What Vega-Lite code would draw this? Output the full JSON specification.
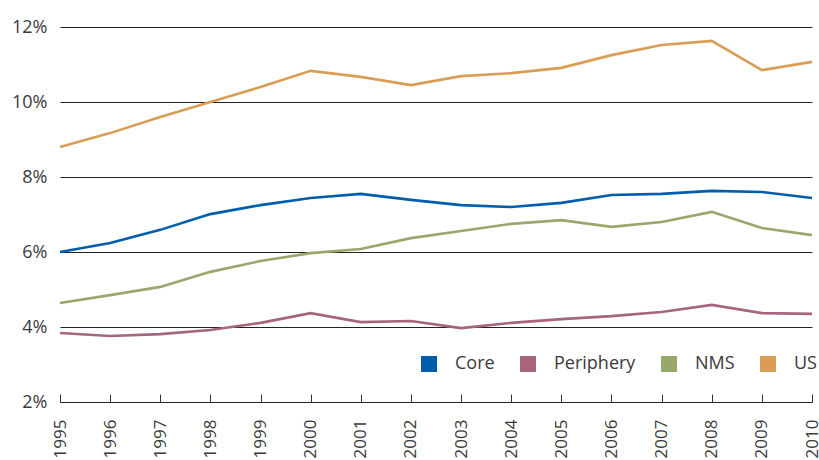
{
  "$schema": "https://vega.github.io/schema/vega-lite/v6.json",
  "width": 752,
  "height": 375,
  "autosize": "none",
  "padding": {"left": 60, "top": 27, "right": 7, "bottom": 58},
  "background": "white",
  "config": {
    "view": {"stroke": null},
    "font": "Open Sans",
    "axis": {"labelFont": "Open Sans", "labelColor": "#3a3a3a"},
    "legend": {"labelFont": "Open Sans"}
  },
  "data": {
    "values": [
      {"year": 1995, "series": "Core", "value": 6.0},
      {"year": 1996, "series": "Core", "value": 6.24},
      {"year": 1997, "series": "Core", "value": 6.59},
      {"year": 1998, "series": "Core", "value": 7.01},
      {"year": 1999, "series": "Core", "value": 7.25},
      {"year": 2000, "series": "Core", "value": 7.44},
      {"year": 2001, "series": "Core", "value": 7.55},
      {"year": 2002, "series": "Core", "value": 7.39},
      {"year": 2003, "series": "Core", "value": 7.25},
      {"year": 2004, "series": "Core", "value": 7.2},
      {"year": 2005, "series": "Core", "value": 7.31},
      {"year": 2006, "series": "Core", "value": 7.52},
      {"year": 2007, "series": "Core", "value": 7.55},
      {"year": 2008, "series": "Core", "value": 7.63},
      {"year": 2009, "series": "Core", "value": 7.6},
      {"year": 2010, "series": "Core", "value": 7.44},
      {"year": 1995, "series": "Periphery", "value": 3.84},
      {"year": 1996, "series": "Periphery", "value": 3.76},
      {"year": 1997, "series": "Periphery", "value": 3.81},
      {"year": 1998, "series": "Periphery", "value": 3.92},
      {"year": 1999, "series": "Periphery", "value": 4.11},
      {"year": 2000, "series": "Periphery", "value": 4.37},
      {"year": 2001, "series": "Periphery", "value": 4.13},
      {"year": 2002, "series": "Periphery", "value": 4.16},
      {"year": 2003, "series": "Periphery", "value": 3.97},
      {"year": 2004, "series": "Periphery", "value": 4.11},
      {"year": 2005, "series": "Periphery", "value": 4.21},
      {"year": 2006, "series": "Periphery", "value": 4.29},
      {"year": 2007, "series": "Periphery", "value": 4.4},
      {"year": 2008, "series": "Periphery", "value": 4.59},
      {"year": 2009, "series": "Periphery", "value": 4.37},
      {"year": 2010, "series": "Periphery", "value": 4.35},
      {"year": 1995, "series": "NMS", "value": 4.64},
      {"year": 1996, "series": "NMS", "value": 4.85},
      {"year": 1997, "series": "NMS", "value": 5.07},
      {"year": 1998, "series": "NMS", "value": 5.47},
      {"year": 1999, "series": "NMS", "value": 5.76},
      {"year": 2000, "series": "NMS", "value": 5.97},
      {"year": 2001, "series": "NMS", "value": 6.08},
      {"year": 2002, "series": "NMS", "value": 6.37},
      {"year": 2003, "series": "NMS", "value": 6.56},
      {"year": 2004, "series": "NMS", "value": 6.75},
      {"year": 2005, "series": "NMS", "value": 6.85},
      {"year": 2006, "series": "NMS", "value": 6.67},
      {"year": 2007, "series": "NMS", "value": 6.8},
      {"year": 2008, "series": "NMS", "value": 7.07},
      {"year": 2009, "series": "NMS", "value": 6.64},
      {"year": 2010, "series": "NMS", "value": 6.45},
      {"year": 1995, "series": "US", "value": 8.8},
      {"year": 1996, "series": "US", "value": 9.17},
      {"year": 1997, "series": "US", "value": 9.6},
      {"year": 1998, "series": "US", "value": 10.0},
      {"year": 1999, "series": "US", "value": 10.4},
      {"year": 2000, "series": "US", "value": 10.83},
      {"year": 2001, "series": "US", "value": 10.67},
      {"year": 2002, "series": "US", "value": 10.45},
      {"year": 2003, "series": "US", "value": 10.69},
      {"year": 2004, "series": "US", "value": 10.77},
      {"year": 2005, "series": "US", "value": 10.91},
      {"year": 2006, "series": "US", "value": 11.25},
      {"year": 2007, "series": "US", "value": 11.52},
      {"year": 2008, "series": "US", "value": 11.63},
      {"year": 2009, "series": "US", "value": 10.85},
      {"year": 2010, "series": "US", "value": 11.07}
    ]
  },
  "mark": {"type": "line", "strokeWidth": 2.6, "interpolate": "linear"},
  "encoding": {
    "x": {
      "field": "year",
      "type": "quantitative",
      "scale": {"domain": [1995, 2010], "nice": false, "zero": false},
      "axis": {
        "title": null,
        "values": [1995,1996,1997,1998,1999,2000,2001,2002,2003,2004,2005,2006,2007,2008,2009,2010],
        "format": "d",
        "grid": false,
        "domainColor": "#222222",
        "domainWidth": 1.2,
        "tickColor": "#333333",
        "tickWidth": 1,
        "tickSize": -8,
        "labelAngle": -90,
        "labelAlign": "right",
        "labelBaseline": "middle",
        "labelFontSize": 17,
        "labelPadding": 25,
        "labelFlush": false,
        "labelOverlap": false
      }
    },
    "y": {
      "field": "value",
      "type": "quantitative",
      "scale": {"domain": [2, 12], "nice": false, "zero": false},
      "axis": {
        "title": null,
        "values": [2, 4, 6, 8, 10, 12],
        "labelExpr": "datum.value + '%'",
        "domain": false,
        "ticks": false,
        "gridColor": "#222222",
        "gridWidth": 1.2,
        "labelFontSize": 18,
        "labelPadding": 13
      }
    },
    "color": {
      "field": "series",
      "type": "nominal",
      "sort": ["Core", "Periphery", "NMS", "US"],
      "scale": {
        "domain": ["Core", "Periphery", "NMS", "US"],
        "range": ["#005dab", "#a6647f", "#98a76b", "#d99d55"]
      },
      "legend": {
        "title": null,
        "orient": "none",
        "direction": "horizontal",
        "legendX": 360,
        "legendY": 328,
        "symbolType": "square",
        "symbolSize": 256,
        "symbolStrokeWidth": 0,
        "symbolOpacity": 1,
        "labelFontSize": 18,
        "labelColor": "#3a3a3a",
        "labelOffset": 17,
        "columnPadding": 24,
        "encode": {
          "symbols": {"update": {"fill": {"scale": "color", "field": "value"}, "opacity": {"value": 1}}}
        }
      }
    }
  }
}
